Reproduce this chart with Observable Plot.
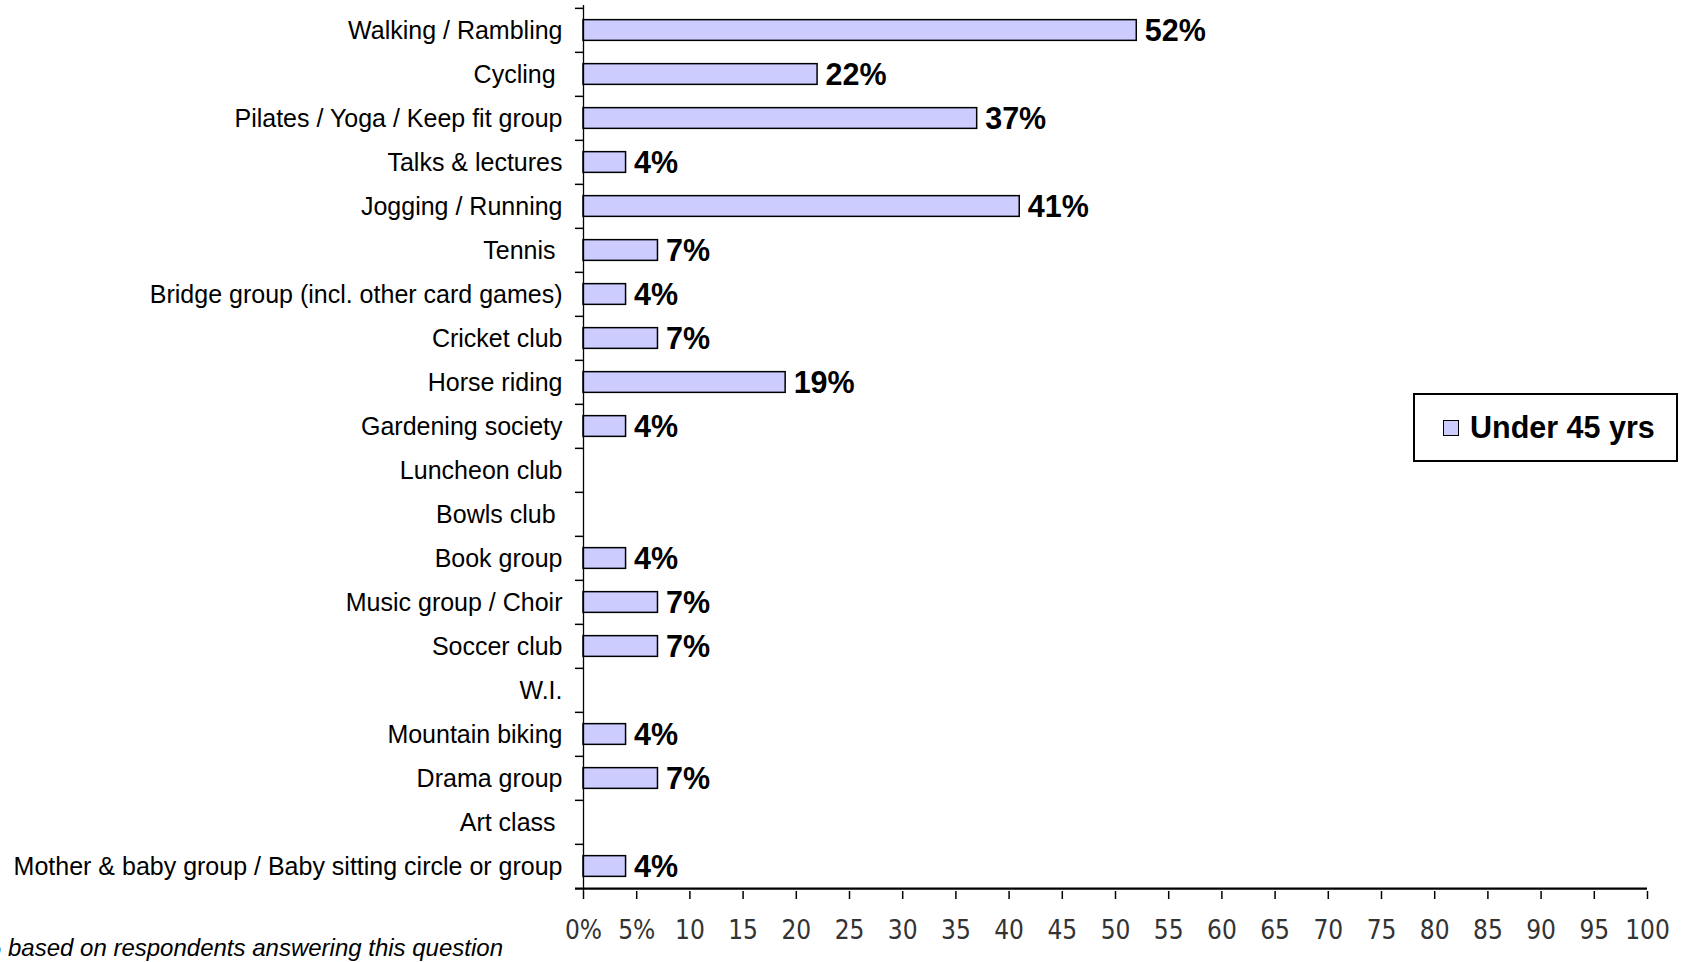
<!DOCTYPE html>
<html><head><meta charset="utf-8">
<script src="https://cdn.jsdelivr.net/npm/d3@7"></script>
<script src="https://cdn.jsdelivr.net/npm/@observablehq/plot@0.6"></script>
<style>
html,body{margin:0;padding:0;background:#fff;overflow:hidden}
#wrap{position:relative;width:1682px;height:962px;overflow:hidden}
#legend{position:absolute;left:1413px;top:393px;width:265px;height:69px;box-sizing:border-box;border:2px solid #000;background:#fff;display:flex;align-items:center;font-family:"Liberation Sans",Arial,sans-serif;font-weight:bold;font-size:30.5px;color:#000}
#legend .sw{width:16px;height:16px;background:#ccccff;border:1.5px solid #000;margin-left:28px;margin-right:11px;box-sizing:border-box}
#caption{position:absolute;left:-20px;top:934px;font-family:"Liberation Sans",Arial,sans-serif;font-style:italic;font-size:24px;line-height:28px;color:#000;white-space:nowrap}
</style></head>
<body>
<div id="wrap"><div id="chart"></div><div id="legend"><div class="sw"></div><span id="legtext"></span></div><div id="caption"></div></div>
<script>
const categories = [
  "Walking / Rambling",
  "Cycling ",
  "Pilates / Yoga / Keep fit group",
  "Talks & lectures",
  "Jogging / Running",
  "Tennis ",
  "Bridge group (incl. other card games)",
  "Cricket club",
  "Horse riding",
  "Gardening society",
  "Luncheon club",
  "Bowls club ",
  "Book group",
  "Music group / Choir",
  "Soccer club",
  "W.I.",
  "Mountain biking",
  "Drama group",
  "Art class ",
  "Mother & baby group / Baby sitting circle or group"
];
const values = [52, 22, 37, 4, 41, 7, 4, 7, 19, 4, 0, 0, 4, 7, 7, 0, 4, 7, 0, 4];
const seriesName = "Under 45 yrs";
const xTicks = [0,5,10,15,20,25,30,35,40,45,50,55,60,65,70,75,80,85,90,95,100];
const xTickLabels = ["0%","5%","10","15","20","25","30","35","40","45","50","55","60","65","70","75","80","85","90","95","100"];
const captionText = "% based on respondents answering this question";

const data = categories.map((c, i) => ({category: c, value: values[i]}));
const shown = data.filter(d => d.value > 0);

const W = 1682, H = 962, mL = 583, mR = 35, mT = 5, axisY0 = 891, mB = H - axisY0;
const bw = (axisY0 - mT) / categories.length;
const xUnit = (W - mL - mR) / 100;
const tickLen = 8 / xUnit;
const barInset = (bw - 21) / 2;

const chart = Plot.plot({
  width: W, height: H,
  marginLeft: mL, marginRight: mR, marginTop: mT, marginBottom: mB,
  style: {background: "white", color: "#000", fontFamily: "'Liberation Sans', Arial, sans-serif"},
  x: {domain: [0, 100]},
  y: {domain: categories, padding: 0},
  marks: [
    Plot.axisY({tickSize: 0, tickPadding: 21, label: null, fontSize: 25, fill: "#000",
      tickFormat: d => d.replace(/ $/, "\u00a0")}),
    Plot.axisX({ticks: xTicks, tickFormat: (d) => xTickLabels[xTicks.indexOf(d)], tickSize: 8, tickPadding: 21,
      label: null, fontSize: 26, fontFamily: "'DejaVu Sans Condensed', 'DejaVu Sans', sans-serif", fill: "#333", stroke: "#000", strokeWidth: 1.5}),
    Plot.barX(shown, {x: "value", y: "category", fill: "#ccccff", stroke: "#000", strokeWidth: 1.5, insetTop: barInset, insetBottom: barInset}),
    Plot.ruleX([0], {stroke: "#000", strokeWidth: 1.3}),
    Plot.ruleY(categories, {y: d => d, x1: -tickLen, x2: 0, dy: -bw / 2, stroke: "#000", strokeWidth: 1.5}),
    Plot.ruleY([categories[categories.length - 1]], {y: d => d, x1: -tickLen, x2: 100, dy: bw / 2, stroke: "#000", strokeWidth: 2.2}),
    Plot.text(shown, {x: "value", y: "category", text: d => d.value + "%", dx: 8, dy: 1, textAnchor: "start",
      fontSize: 30.5, fontWeight: "bold", fill: "#000"})
  ]
});
document.getElementById("chart").appendChild(chart);
document.getElementById("legtext").textContent = seriesName;
document.getElementById("caption").textContent = captionText;
</script>
</body></html>
